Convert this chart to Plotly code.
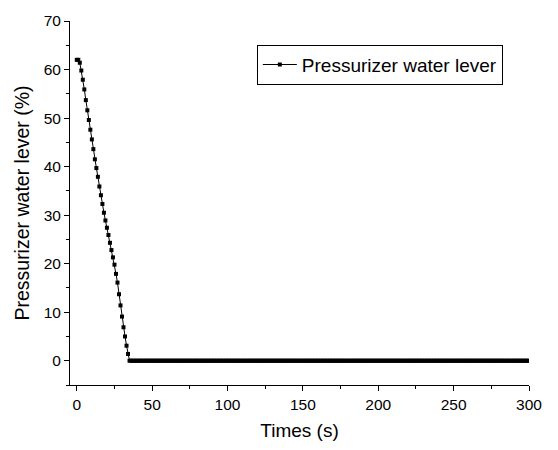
import plotly.graph_objects as go

# Time (s) and pressurizer water level (%)
time_drop = list(range(0, 35))
level_drop = [62.0, 62.0, 61.4, 59.8, 57.9, 55.9, 53.7, 51.6, 49.6, 47.6,
              45.6, 43.6, 41.5, 39.7, 37.9, 35.9, 34.1, 32.3, 30.5, 28.9,
              27.4, 25.9, 24.3, 22.8, 21.3, 19.8, 17.9, 16.1, 13.7, 11.4,
              9.1, 6.9, 5.0, 3.1, 1.4]
time_flat = list(range(35, 301))
level_flat = [0.0] * len(time_flat)

times = time_drop + time_flat
levels = level_drop + level_flat

series_name = "Pressurizer water lever"
x_title = "Times (s)"
y_title = "Pressurizer water lever (%)"

fig = go.Figure()
fig.add_trace(go.Scatter(
    x=times, y=levels, mode="lines+markers", name=series_name,
    line=dict(color="black", width=1),
    marker=dict(symbol="square", size=4, color="black", line=dict(width=0)),
))

font_family = "Liberation Sans, Arial, sans-serif"
fig.update_layout(
    width=558, height=450,
    margin=dict(l=70, r=29, t=16, b=63),
    plot_bgcolor="white", paper_bgcolor="white",
    font=dict(family=font_family, color="black", size=15),
    showlegend=True,
    legend=dict(
        x=0.943, y=0.935, xanchor="right", yanchor="top",
        bordercolor="black", borderwidth=1, bgcolor="white",
        font=dict(size=19, family=font_family, color="black"),
        itemwidth=34, tracegroupgap=0,
    ),
    xaxis=dict(
        range=[-4.5, 300], showgrid=False, zeroline=False,
        showline=True, linecolor="black", linewidth=1,
        ticks="outside", ticklen=5, tickwidth=1, tickcolor="black",
        tick0=0, dtick=50,
        minor=dict(ticks="outside", ticklen=3, dtick=25, tick0=0, tickcolor="black", showgrid=False),
        title=dict(text=x_title, font=dict(size=19), standoff=12),
        tickfont=dict(size=15.5),
    ),
    yaxis=dict(
        range=[-5, 70], showgrid=False, zeroline=False,
        showline=True, linecolor="black", linewidth=1,
        ticks="outside", ticklen=5, tickwidth=1, tickcolor="black",
        tick0=0, dtick=10,
        minor=dict(ticks="outside", ticklen=3, dtick=5, tick0=0, tickcolor="black", showgrid=False),
        title=dict(text=y_title, font=dict(size=19.5), standoff=8),
        tickfont=dict(size=15.5),
    ),
)

fig.write_html("out.html")
